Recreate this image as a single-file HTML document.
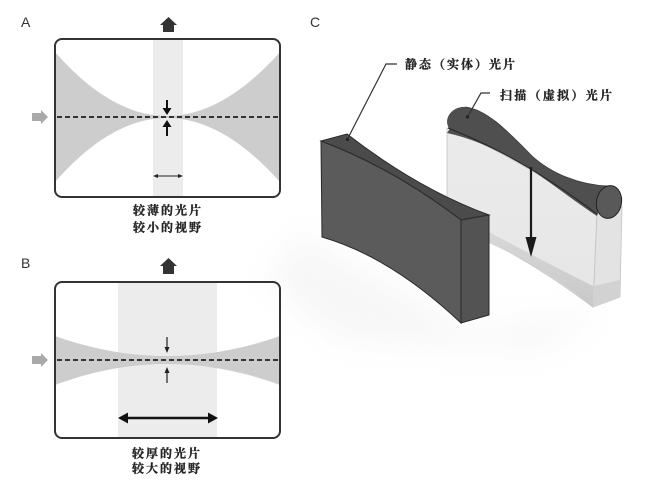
<!DOCTYPE html>
<html><head><meta charset="utf-8"><style>
html,body{margin:0;padding:0;background:#fff;}
svg{display:block;}
.cj{font-family:"Liberation Serif","Noto Serif CJK SC",serif;font-size:12px;font-weight:bold;fill:#262626;stroke:#262626;stroke-width:0.35;}
.lt{font-family:"Liberation Sans",sans-serif;font-size:14px;fill:#333;}
</style></head><body>
<svg width="650" height="495" viewBox="0 0 650 495" xmlns="http://www.w3.org/2000/svg">
<defs>
<clipPath id="ca"><rect x="55" y="39" width="225" height="158" rx="7"/></clipPath>
<clipPath id="cb"><rect x="55" y="282" width="225" height="156" rx="7"/></clipPath>
<filter id="blur" x="-50%" y="-50%" width="200%" height="200%"><feGaussianBlur stdDeviation="16"/></filter>
<linearGradient id="tg" x1="0" y1="0" x2="0" y2="1">
<stop offset="0" stop-color="#ebebeb"/><stop offset="1" stop-color="#e6e6e6"/>
</linearGradient>
<linearGradient id="wg" gradientUnits="userSpaceOnUse" x1="0" y1="230" x2="0" y2="305">
<stop offset="0" stop-color="#d8d8d8"/><stop offset="1" stop-color="#c9c9c9"/>
</linearGradient>
</defs>

<!-- soft shadows -->
<path d="M300,235 L470,330 L610,310 L540,350 L340,340 L265,280 Z" fill="#e4e4e4" opacity="0.3" filter="url(#blur)"/>

<!-- Panel labels -->
<text class="lt" x="21" y="27">A</text>
<text class="lt" x="21" y="268">B</text>
<text class="lt" x="310" y="27">C</text>

<!-- ===== Panel A ===== -->
<polygon points="160,25 177,25 168.5,17" fill="#333"/>
<rect x="163" y="24.5" width="11" height="7.5" fill="#333"/>
<g clip-path="url(#ca)">
<rect x="153" y="39" width="30" height="158" fill="#ececec"/>
<path d="M55,52 Q111,116 167,116 Q223,116 280,52 L280,182 Q223,118 167,118 Q111,118 55,182 Z" fill="#cdcdcd"/>
</g>
<rect x="55" y="39" width="225" height="158" rx="7" fill="none" stroke="#333" stroke-width="2"/>
<line x1="57" y1="117" x2="279" y2="117" stroke="#333" stroke-width="2" stroke-dasharray="5,3"/>
<rect x="32" y="113" width="10" height="8" fill="#a9a9a9"/>
<polygon points="41,110 41,124 48,117" fill="#a9a9a9"/>
<line x1="167" y1="100" x2="167" y2="109" stroke="#111" stroke-width="2"/>
<polygon points="162.5,108 171.5,108 167,115" fill="#111"/>
<line x1="167" y1="126" x2="167" y2="136" stroke="#111" stroke-width="2"/>
<polygon points="162.5,127 171.5,127 167,120" fill="#111"/>
<line x1="156" y1="176" x2="180" y2="176" stroke="#222" stroke-width="1"/>
<polygon points="153,176 158,174 158,178" fill="#222"/>
<polygon points="183,176 178,174 178,178" fill="#222"/>
<text class="cj" x="133" y="214.5" textLength="68" lengthAdjust="spacing">较薄的光片</text>
<text class="cj" x="133" y="231.5" textLength="68" lengthAdjust="spacing">较小的视野</text>

<!-- ===== Panel B ===== -->
<polygon points="160,266 177,266 168.5,258" fill="#333"/>
<rect x="163" y="265.5" width="11" height="8.5" fill="#333"/>
<g clip-path="url(#cb)">
<rect x="118" y="282" width="99" height="156" fill="#ececec"/>
<path d="M55,336 Q111,356 167,356 Q223,356 280,336 L280,385 Q223,364 167,364 Q111,364 55,385 Z" fill="#cdcdcd"/>
</g>
<rect x="55" y="282" width="225" height="156" rx="7" fill="none" stroke="#333" stroke-width="2"/>
<line x1="57" y1="360" x2="279" y2="360" stroke="#333" stroke-width="2" stroke-dasharray="5,3"/>
<rect x="32" y="356" width="10" height="8" fill="#a9a9a9"/>
<polygon points="41,353 41,367 48,360" fill="#a9a9a9"/>
<line x1="167" y1="337" x2="167" y2="349" stroke="#222" stroke-width="1.2"/>
<polygon points="164.5,347 169.5,347 167,353" fill="#222"/>
<line x1="167" y1="371" x2="167" y2="383" stroke="#222" stroke-width="1.2"/>
<polygon points="164.5,373 169.5,373 167,367" fill="#222"/>
<line x1="126" y1="418" x2="210" y2="418" stroke="#111" stroke-width="2.5"/>
<polygon points="118,418 128,412.5 128,423.5" fill="#111"/>
<polygon points="218,418 208,412.5 208,423.5" fill="#111"/>
<text class="cj" x="132" y="457.5" textLength="68" lengthAdjust="spacing">较厚的光片</text>
<text class="cj" x="132" y="472.5" textLength="68" lengthAdjust="spacing">较大的视野</text>

<!-- ===== Panel C ===== -->
<!-- transparent (virtual) sheet -->
<path d="M447,128 Q520,158 597,214 L593,307 Q520,252 447,222 Z" fill="url(#tg)" stroke="#c2c2c2" stroke-width="0.8"/>
<path d="M489,232 Q545,262 593,286 L593,307 Q545,268 489,243 Z" fill="url(#wg)"/>
<path d="M597,214 L622,206 L620,297 L593,307 Z" fill="#e3e3e3" stroke="#c2c2c2" stroke-width="0.8"/>
<path d="M593,286 L620,280 L620,297 L593,307 Z" fill="#d2d2d2"/>
<!-- hourglass top -->
<path d="M465,107 C485,109 505,128 532,156 C552,174 580,185 608,186 L597,216 C580,205 555,186 532,170 C510,157 480,140 447,133 Z" fill="#4f4f4f"/>
<ellipse cx="463" cy="121" rx="16" ry="14" transform="rotate(-10 463 121)" fill="#4f4f4f"/>
<path d="M465,107 C485,109 505,128 532,156 C552,174 580,185 608,186" fill="none" stroke="#3a3a3a" stroke-width="0.8"/>
<path d="M448,128 Q520,156 597,214" fill="none" stroke="#262626" stroke-width="1"/>
<ellipse cx="609" cy="202" rx="12.5" ry="16.5" transform="rotate(10 609 202)" fill="#595959" stroke="#222" stroke-width="1"/>
<!-- scan arrow -->
<line x1="531" y1="167" x2="531" y2="242" stroke="#1a1a1a" stroke-width="2.2"/>
<polygon points="525.5,237 536.5,237 531,257" fill="#1a1a1a"/>

<!-- solid (static) sheet -->
<path d="M321,141 Q391,167 461,220 L461,323 Q391,257 322,237 Z" fill="#5b5b5b" stroke="#2a2a2a" stroke-width="1"/>
<path d="M321,141 L347,134 Q418,189 489,215 L461,220 Q391,167 321,141 Z" fill="#4b4b4b" stroke="#2a2a2a" stroke-width="1"/>
<path d="M461,220 L489,215 L489,315 L461,323 Z" fill="#535353" stroke="#2a2a2a" stroke-width="1"/>

<!-- leader lines -->
<path d="M397,64 L386,64 L348,138" fill="none" stroke="#333" stroke-width="1.2"/>
<circle cx="347.5" cy="139.5" r="1.6" fill="#222"/>
<path d="M490,93 L481,93 L468,116" fill="none" stroke="#333" stroke-width="1.2"/>
<circle cx="467.5" cy="117" r="1.6" fill="#222"/>
<text class="cj" x="405" y="68.5" textLength="110" lengthAdjust="spacing">静态（实体）光片</text>
<text class="cj" x="500" y="99.5" textLength="112" lengthAdjust="spacing">扫描（虚拟）光片</text>
</svg>
</body></html>
